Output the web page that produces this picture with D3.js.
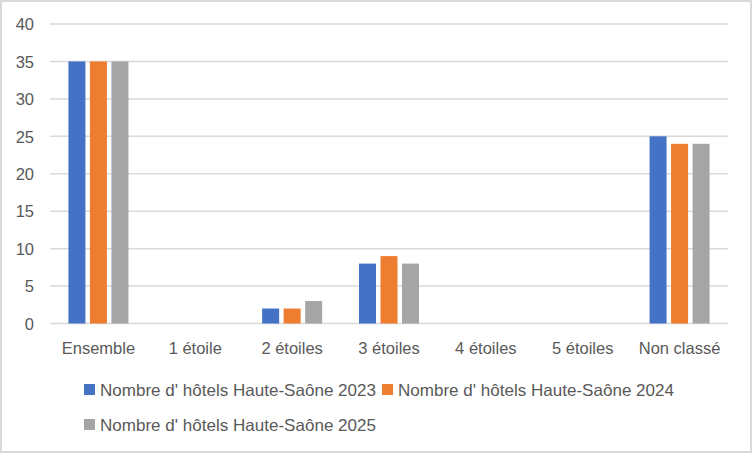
<!DOCTYPE html>
<html><head><meta charset="utf-8">
<script src="https://cdn.jsdelivr.net/npm/d3@7"></script>
<style>
html,body{margin:0;padding:0;background:#fff;}
svg{display:block;}
text{font-family:"Liberation Sans",Arial,sans-serif;fill:#595959;}
</style></head>
<body>
<svg id="c" width="752" height="453"></svg>
<script>
const categories = ["Ensemble","1 étoile","2 étoiles","3 étoiles","4 étoiles","5 étoiles","Non classé"];
const seriesNames = ["Nombre d' hôtels Haute-Saône 2023","Nombre d' hôtels Haute-Saône 2024","Nombre d' hôtels Haute-Saône 2025"];
const values2023 = [35,0,2,8,0,0,25];
const values2024 = [35,0,2,9,0,0,24];
const values2025 = [35,0,3,8,0,0,24];
const yTicks = [0,5,10,15,20,25,30,35,40];
const colors = ["#4472C4","#ED7D31","#A5A5A5"];

const series = [values2023, values2024, values2025];
const svg = d3.select("#c");
svg.append("rect").attr("x",1).attr("y",1).attr("width",750).attr("height",451)
  .attr("fill","#fff").attr("stroke","#d9d9d9").attr("stroke-width",2);

const x = d3.scaleBand().domain(categories).range([50,728]).padding(0);
const y = d3.scaleLinear().domain([0,40]).range([323.5,24]);
const bw = x.bandwidth();
const barW = bw*0.1755, step = bw*0.222;
const inner = d3.scaleBand().domain(d3.range(3)).range([0, step*3]);

// gridlines
svg.append("g").selectAll("line").data(yTicks).join("line")
  .attr("x1",50).attr("x2",728)
  .attr("y1",d=>y(d)).attr("y2",d=>y(d))
  .attr("stroke","#d9d9d9").attr("stroke-width",1.5);

// y axis labels
const yAxis = d3.axisLeft(y).tickValues(yTicks).tickSize(0).tickPadding(0);
const ya = svg.append("g").attr("transform","translate(34,0)").call(yAxis);
ya.select(".domain").remove();
ya.selectAll("text").attr("font-size","16.5px").attr("fill","#595959").attr("dy","0.35em")
  .style("font-family","'Liberation Sans',Arial,sans-serif");

// bars
series.forEach((vals,si)=>{
  svg.append("g").selectAll("rect").data(categories).join("rect")
    .attr("x",(c)=>x(c)+bw/2 - (step*2+barW)/2 + inner(si))
    .attr("width",barW)
    .attr("y",(c,i)=>y(vals[i]))
    .attr("height",(c,i)=>y(0)-y(vals[i]))
    .attr("fill",colors[si]);
});

// x axis labels
const xAxis = d3.axisBottom(x).tickSize(0).tickPadding(0);
const xa = svg.append("g").attr("transform","translate(0,342)").call(xAxis);
xa.select(".domain").remove();
xa.selectAll("text").attr("font-size","16.5px").attr("fill","#595959").attr("dy","0.71em")
  .style("font-family","'Liberation Sans',Arial,sans-serif");

// legend
const legendPos = [[84,390],[382,390],[84,425]];
series.forEach((s,si)=>{
  const [lx,ly] = legendPos[si];
  svg.append("rect").attr("x",lx).attr("y",ly-6).attr("width",11).attr("height",11).attr("fill",colors[si]);
  svg.append("text").attr("x",lx+16).attr("y",ly).attr("dy","0.35em")
    .attr("font-size","16.5px").attr("textLength",276).attr("lengthAdjust","spacingAndGlyphs")
    .text(seriesNames[si]);
});
</script>
</body></html>
